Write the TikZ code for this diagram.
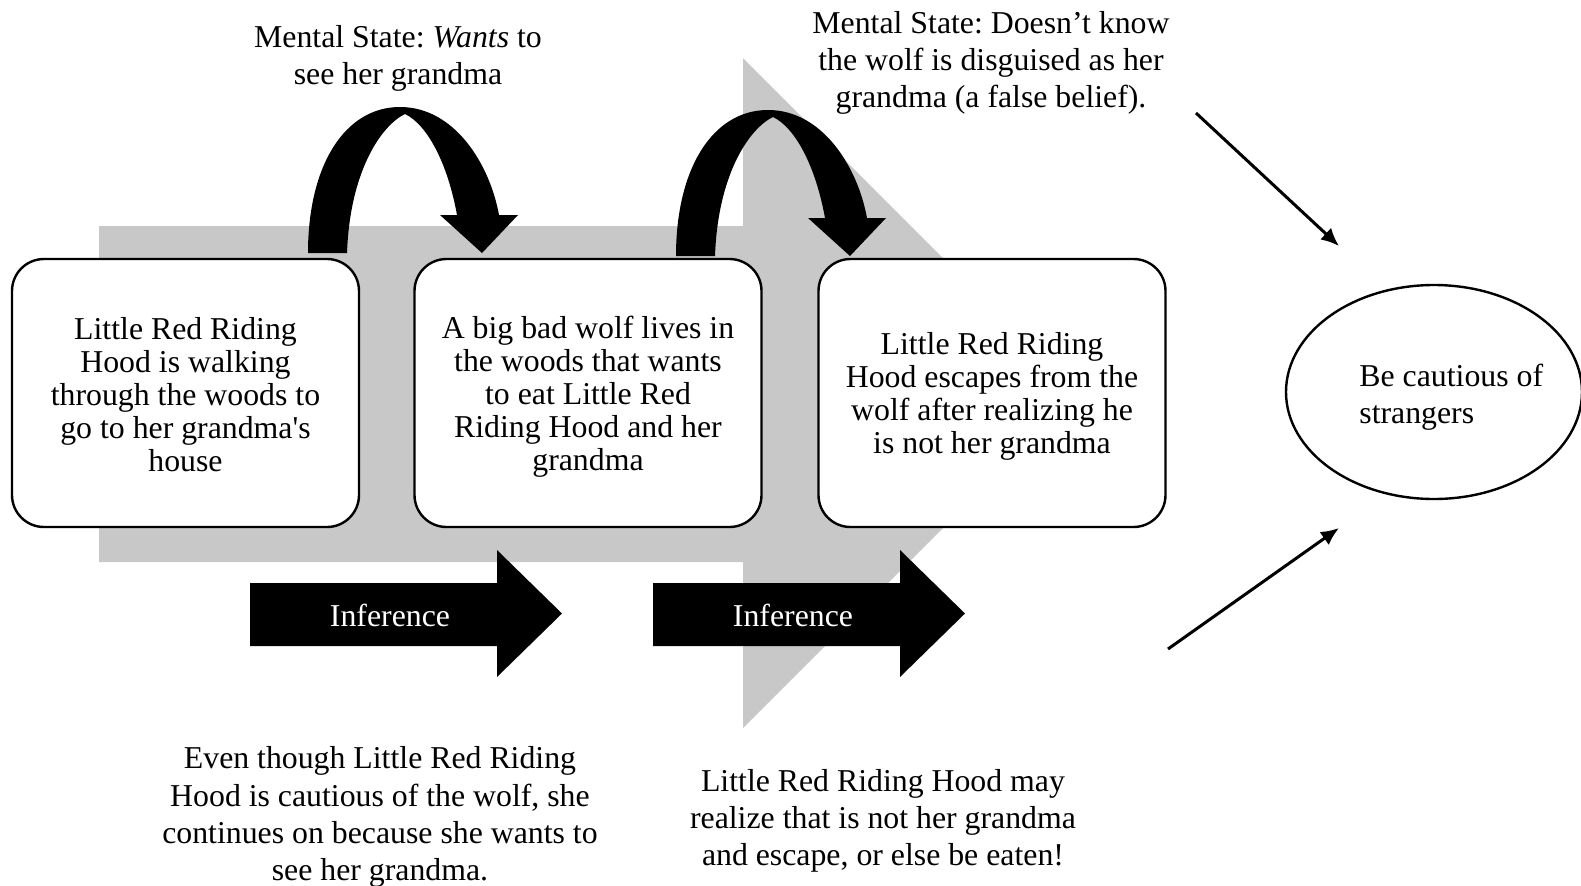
\documentclass[tikz,border=0pt]{standalone}
\usepackage{fontspec}
\setmainfont{Liberation Serif}
\usetikzlibrary{shapes.geometric,arrows.meta}
\definecolor{bggray}{RGB}{200,200,200}
\frenchspacing
\begin{document}
\begin{tikzpicture}[x=0.5pt,y=-0.5pt,
  box/.style={draw=black, line width=1.2pt, fill=white, rounded corners=16pt,
    minimum width=173.5pt, minimum height=134pt, inner sep=0pt},
  boxtxt/.style={align=center, inner sep=0pt,
    font=\fontsize{15.9pt}{16.5pt}\selectfont},
  txt/.style={align=center, inner sep=0pt, font=\fontsize{15.9pt}{18.6pt}\selectfont},
  inftxt/.style={text=white, inner sep=0pt, font=\fontsize{15.9pt}{18.6pt}\selectfont},
  goalarrow/.style={line width=1.5pt, -{Latex[length=9pt,width=8pt]}},
  bendarrow/.pic={
    \fill[black] (308,253) .. controls (308,165) and (345,107) .. (400,107)
      .. controls (455,107) and (490,165) .. (499,215) -- (518,215) -- (482,253)
      -- (440,215) -- (457,215) .. controls (448,165) and (428,125) .. (405,114)
      .. controls (382,125) and (350,170) .. (347,253) -- cycle;
  },
  infarrow/.pic={
    \fill[black] (250,583) -- (497,583) -- (497,550) -- (562,613.5) -- (497,677)
      -- (497,646) -- (250,646) -- cycle;
  }
]
\useasboundingbox (0,0) rectangle (1581,885);
% big gray arrow
\fill[bggray] (99,226) -- (743,226) -- (743,58) -- (1078,393) -- (743,728) -- (743,562) -- (99,562) -- cycle;
% curved arrows
\pic at (0,0) {bendarrow};
\pic at (368,3) {bendarrow};
% boxes
\node[box] (b1) at (185.5,393) {};
\node[box] (b2) at (588,393) {};
\node[box] (b3) at (992,393) {};
\node[boxtxt] (b1t) at (185.5,395) {Little Red Riding\\Hood is walking\\through the woods to\\go to her grandma\textquotesingle s\\house};
\node[boxtxt] (b2t) at (588,397) {A big bad wolf lives in\\the woods that wants\\to eat Little Red\\Riding Hood and her\\grandma};
\node[boxtxt] (b3t) at (992,396) {Little Red Riding\\Hood escapes from the\\wolf after realizing he\\is not her grandma};
% inference arrows
\pic at (0,0) {infarrow};
\pic at (403,0) {infarrow};
\node[inftxt] (inf1) at (390,615) {Inference};
\node[inftxt] (inf2) at (793,615) {Inference};
% texts
\node[txt] (ms1) at (398,58) {Mental State: \textit{Wants} to\\see her grandma};
\node[txt] (ms2) at (991,63) {Mental State: Doesn’t know\\the wolf is disguised as her\\grandma (a false belief).};
\node[txt] (bt1) at (380,817) {Even though Little Red Riding\\Hood is cautious of the wolf, she\\continues on because she wants to\\see her grandma.};
\node[txt] (bt2) at (883,821) {Little Red Riding Hood may\\realize that is not her grandma\\and escape, or else be eaten!};
% goal ellipse
\node[draw=black, line width=1.2pt, ellipse, minimum width=148pt, minimum height=107pt, inner sep=0pt] (goal) at (1434,392) {};
\node[txt, align=left, anchor=west] (goaltxt) at (1359,397) {Be cautious of\\strangers};
% arrows to goal
\coordinate (u1) at (1196,113);
\coordinate (u2) at (1339,246);
\coordinate (l1) at (1168,649);
\coordinate (l2) at (1339,528);
\draw[goalarrow] (u1) -- (u2);
\draw[goalarrow] (l1) -- (l2);
\end{tikzpicture}
\end{document}
